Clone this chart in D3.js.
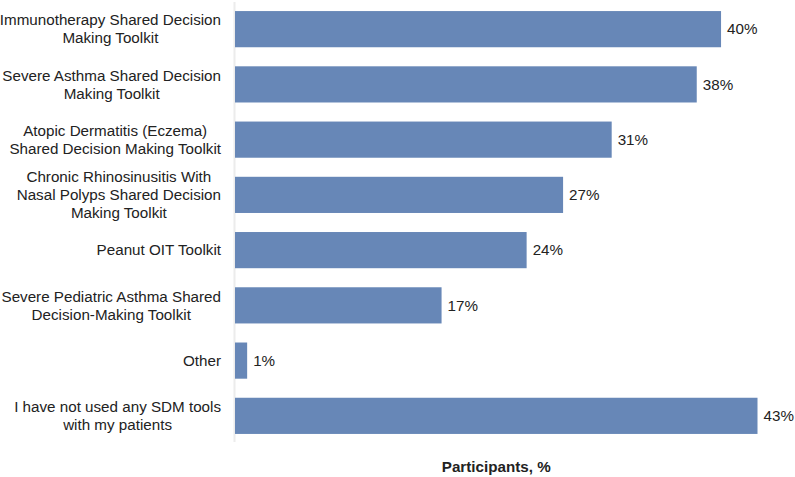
<!DOCTYPE html>
<html>
<head>
<meta charset="utf-8">
<script src="https://cdn.jsdelivr.net/npm/d3@7"></script>
<style>
  html, body { margin: 0; padding: 0; background: #fff; }
  svg { display: block; font-family: "Liberation Sans", Arial, sans-serif; }
</style>
</head>
<body>
<svg id="chart" width="795" height="477"></svg>
<script>
const categories = [
  ["Immunotherapy Shared Decision", "Making Toolkit"],
  ["Severe Asthma Shared Decision", "Making Toolkit"],
  ["Atopic Dermatitis (Eczema)", "Shared Decision Making Toolkit"],
  ["Chronic Rhinosinusitis With", "Nasal Polyps Shared Decision", "Making Toolkit"],
  ["Peanut OIT Toolkit"],
  ["Severe Pediatric Asthma Shared", "Decision-Making Toolkit"],
  ["Other"],
  ["I have not used any SDM tools", "with my patients"]
];
const values = [40, 38, 31, 27, 24, 17, 1, 43];
const axisTitle = "Participants, %";

const svg = d3.select("#chart");
const x0 = 235;
const fs = 15.2;
const x = d3.scaleLinear().domain([0, 43]).range([x0, 757.5]);
const y = d3.scaleBand().domain(d3.range(values.length)).range([2.5, 442.5]).paddingInner(0.345).paddingOuter(0.155);

// axis line
svg.append("line")
  .attr("x1", x0 - 0.5).attr("x2", x0 - 0.5)
  .attr("y1", 2).attr("y2", 442)
  .attr("stroke", "#ececec").attr("stroke-width", 2);

// bars
svg.append("g").selectAll("rect").data(values).join("rect")
  .attr("x", x(0))
  .attr("y", (d, i) => y(i))
  .attr("width", d => x(d) - x(0))
  .attr("height", y.bandwidth())
  .attr("fill", "#6787b7");

// value labels
svg.append("g").selectAll("text").data(values).join("text")
  .attr("x", d => x(d) + 6)
  .attr("y", (d, i) => y(i) + y.bandwidth() / 2)
  .attr("dy", "0.35em")
  .attr("font-size", fs)
  .attr("fill", "#222")
  .text(d => d + "%");

// category labels: block right-aligned, lines centered within block
const lineH = 18;
const rightEdge = 221;
const catG = svg.append("g");
categories.forEach((lines, i) => {
  const cy = y(i) + y.bandwidth() / 2;
  const t = catG.append("text")
    .attr("text-anchor", "middle")
    .attr("font-size", fs)
    .attr("fill", "#222");
  const spans = lines.map((ln, j) => t.append("tspan")
      .attr("y", cy + (j - (lines.length - 1) / 2) * lineH)
      .attr("dy", "0.35em")
      .text(ln));
  const maxW = d3.max(spans, s => s.node().getComputedTextLength());
  spans.forEach(s => s.attr("x", rightEdge - maxW / 2));
});

// axis title
svg.append("text")
  .attr("x", (x0 + 757.5) / 2)
  .attr("y", 472)
  .attr("text-anchor", "middle")
  .attr("font-size", fs)
  .attr("font-weight", "bold")
  .attr("fill", "#222")
  .text(axisTitle);
</script>
</body>
</html>
